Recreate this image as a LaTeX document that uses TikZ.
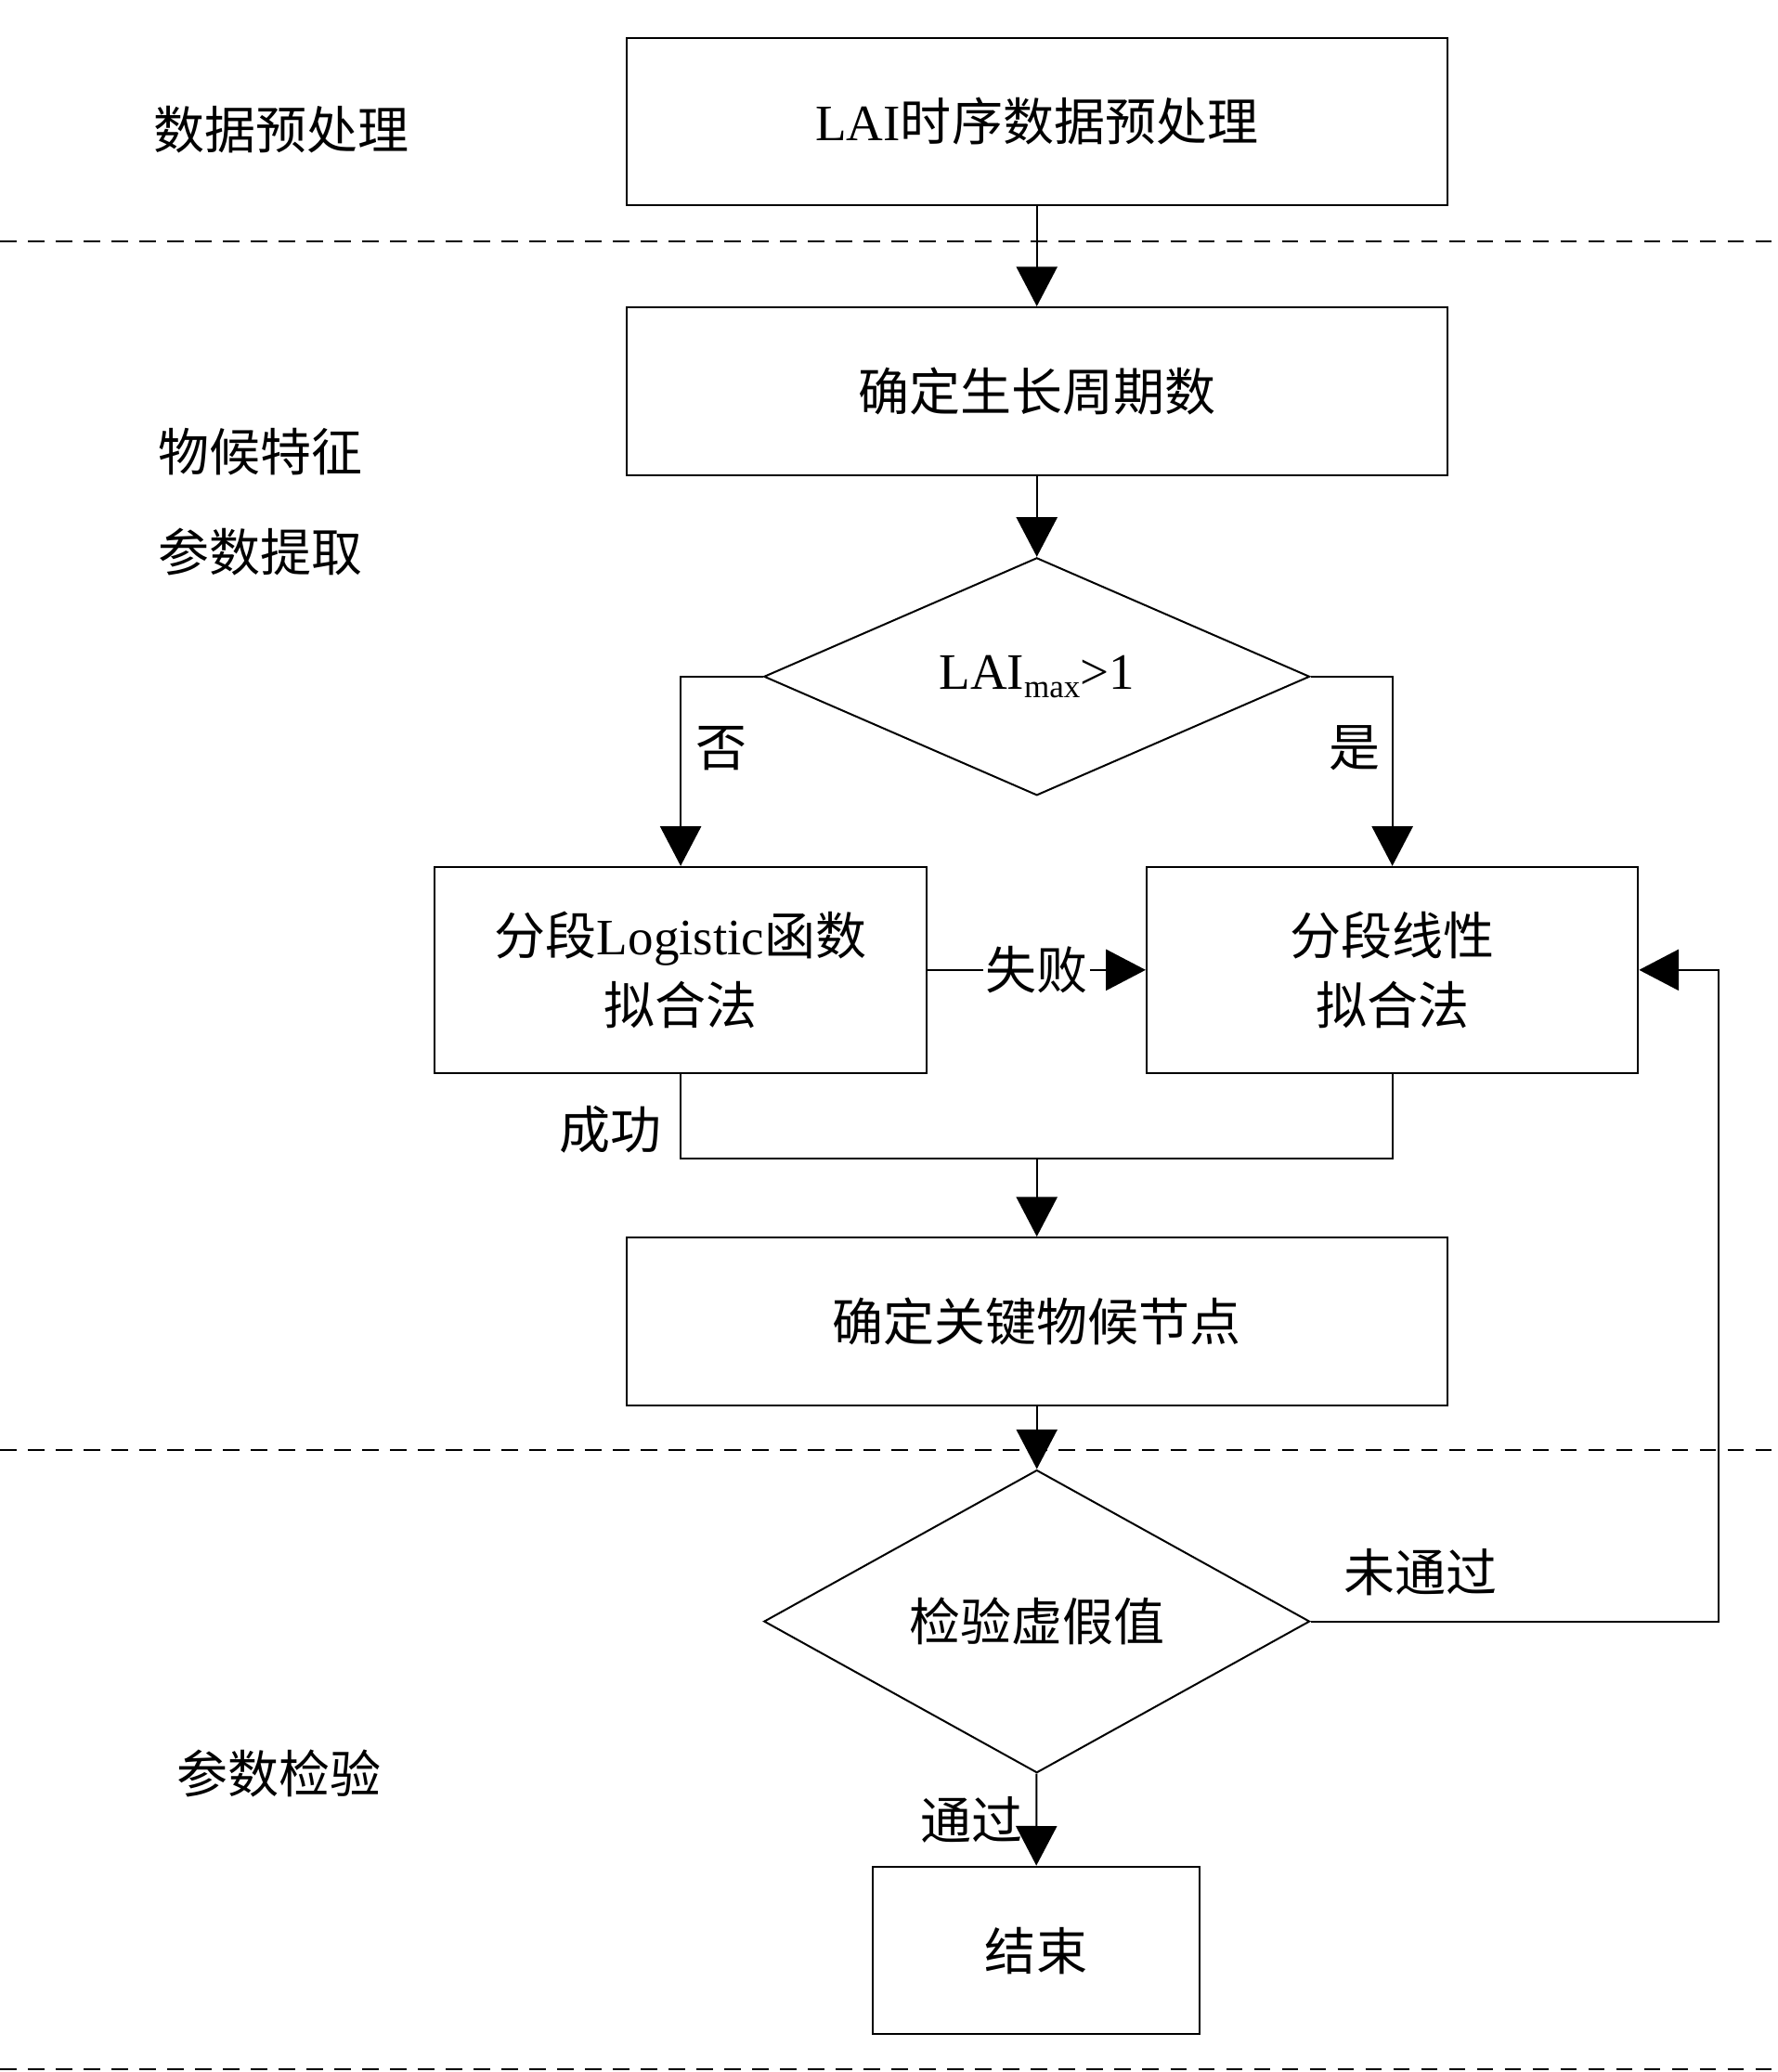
\documentclass[tikz,border=0pt]{standalone}
\usepackage{fontspec}
\setmainfont{Liberation Serif}
\newfontfamily\cjk{Noto Sans CJK SC}
\usetikzlibrary{arrows.meta,shapes.geometric,positioning}
\tikzset{
  box/.style={rectangle,draw,minimum width=12.42cm,minimum height=2.54cm,align=center,inner sep=0pt},
  fitbox/.style={rectangle,draw,minimum width=7.44cm,minimum height=3.12cm,align=center,inner sep=0pt,font=\fontsize{22}{30}\selectfont},
  decide/.style={diamond,draw,minimum width=8.26cm,minimum height=2.88cm,inner sep=0pt},
  arr/.style={-{Triangle[length=0.6cm,width=0.62cm]}},
  sep/.style={dashed,dash pattern=on 7pt off 5pt},
  lbl/.style={font=\cjk\fontsize{22}{26}\selectfont},
}
\begin{document}
\begin{tikzpicture}[x=0.02cm,y=-0.02cm,line width=0.8pt,font=\fontsize{22}{26}\selectfont]
\useasboundingbox (0,0) rectangle (1345,1568);
% separators
\draw[sep] (0,183) -- (1345,183);
\draw[sep] (0,1097) -- (1345,1097);
\draw[sep] (0,1566) -- (1345,1566);
% stage labels
\node[lbl] (s1) at (213,98) {数据预处理};
\node[lbl] (s2a) at (197,342) {物候特征};
\node[lbl] (s2b) at (197,418) {参数提取};
\node[lbl] (s3) at (211,1342) {参数检验};
% nodes
\node[box] (prep) at (784.5,92) {LAI{\cjk 时序数据预处理}};
\node[box] (cycle) at (784.5,296) {\cjk 确定生长周期数};
\node[decide] (lai) at (784.5,512) {LAI\raisebox{-0.35ex}{\fontsize{14}{14}\selectfont max}>1};
\node[fitbox] (logi) at (515,734) {{\cjk 分段}Logistic{\cjk 函数}\\{\cjk 拟合法}};
\node[fitbox] (lin) at (1053.5,734) {\cjk 分段线性\\\cjk 拟合法};
\node[box] (key) at (784.5,1000) {\cjk 确定关键物候节点};
\node[decide,minimum height=3.34cm] (check) at (784.5,1227) {\cjk 检验虚假值};
\node[box,minimum width=4.96cm] (stop) at (784,1476) {\cjk 结束};
\coordinate (merge) at (784.5,877);
\coordinate (back) at (1300,1227);
% connectors
\draw[arr] (prep) -- (cycle);
\draw[arr] (cycle) -- (lai);
\draw[arr] (lai.west) -| (logi.north);
\draw[arr] (lai.east) -| (lin.north);
\node[lbl] (no) at (546,566) {否};
\node[lbl] (yes) at (1025,566) {是};
\draw[arr] (logi.east) -- node[lbl,fill=white,inner sep=1pt] (fail) {失败} (lin.west);
\draw (logi.south) |- (merge);
\draw (lin.south) |- (merge);
\node[lbl] (ok) at (462,855) {成功};
\draw[arr] (merge) -- (key);
\draw[arr] (key) -- (check);
\draw[arr] (check) -- node[lbl,left=2pt] (pass) {通过} (stop);
\draw[arr] (check.east) -- (back) |- (lin.east);
\node[lbl] (notpass) at (1075,1190) {未通过};
\end{tikzpicture}
\end{document}
